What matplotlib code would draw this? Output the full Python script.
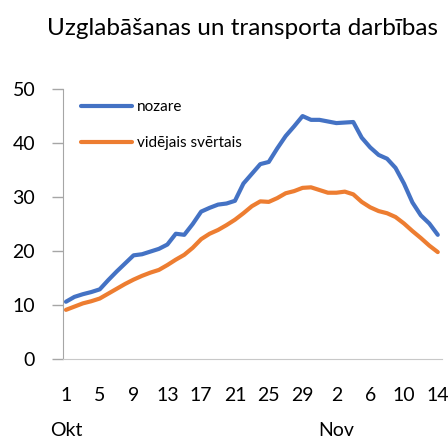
import numpy as np
import matplotlib
matplotlib.use('Agg')
import matplotlib.pyplot as plt

plt.rcParams['font.family'] = ['Lato', 'DejaVu Sans']

# day labels Oct 1 .. Nov 14
day_labels = [str(d) for d in range(1, 32)] + [str(d) for d in range(1, 15)]
tick_idx = list(range(0, 45, 4))

nozare = [10.6, 11.5, 12.0, 12.4, 12.9, 14.6, 16.2, 17.7, 19.2, 19.4,
          19.9, 20.4, 21.2, 23.2, 23.0, 25.0, 27.3, 28.0, 28.6, 28.8,
          29.3, 32.5, 34.3, 36.1, 36.5, 39.0, 41.3, 43.1, 45.0, 44.3,
          44.3, 44.0, 43.7, 43.8, 43.9, 41.0, 39.2, 37.8, 37.1, 35.4,
          32.5, 29.0, 26.6, 25.1, 23.0]
videjais = [9.1, 9.7, 10.3, 10.7, 11.2, 12.1, 13.0, 13.9, 14.7, 15.4,
            16.0, 16.5, 17.4, 18.4, 19.3, 20.6, 22.2, 23.2, 23.9, 24.8,
            25.8, 27.0, 28.3, 29.2, 29.1, 29.8, 30.7, 31.1, 31.7, 31.8,
            31.3, 30.8, 30.8, 31.0, 30.5, 29.1, 28.1, 27.4, 27.0, 26.3,
            25.1, 23.7, 22.4, 21.0, 19.8]
months = ['Okt', 'Nov']
month_idx = [0, 32]

fig = plt.figure(figsize=(4.48, 4.41), dpi=100)
ax = fig.add_axes([0.1406, 0.186, 0.846, 0.612])
x = np.arange(len(nozare))
ax.plot(x, nozare, color='#4472C4', lw=3, label='nozare', solid_capstyle='round')
ax.plot(x, videjais, color='#ED7D31', lw=3, label='vidējais svērtais', solid_capstyle='round')

ax.set_xlim(-0.35, 44.5)
ax.set_ylim(0, 50)
ax.set_yticks([0, 10, 20, 30, 40, 50])
ax.tick_params(axis='y', labelsize=14, length=8, pad=12, color='#a6a6a6', width=1)
ax.set_xticks(tick_idx)
ax.set_xticklabels([day_labels[i] for i in tick_idx])
ax.tick_params(axis='x', labelsize=14, length=0, pad=20)
for i, m in zip(month_idx, months):
    ax.text(i, -0.265, m, transform=ax.get_xaxis_transform(), ha='center', va='center', fontsize=14)

for s in ['top', 'right']:
    ax.spines[s].set_visible(False)
ax.spines['left'].set_color('#a6a6a6')
ax.spines['bottom'].set_color('#c8c8c8')

# legend sits inside the top-left of the plot
ax.legend(loc='upper left', bbox_to_anchor=(0.01, 1.01), frameon=False, fontsize=11,
          handlelength=3.4, handletextpad=0.3, labelspacing=1.45)

fig.text(0.541, 0.935, 'Uzglabāšanas un transporta darbības', ha='center', va='center', fontsize=17.5)

fig.savefig('out.png', dpi=100)
